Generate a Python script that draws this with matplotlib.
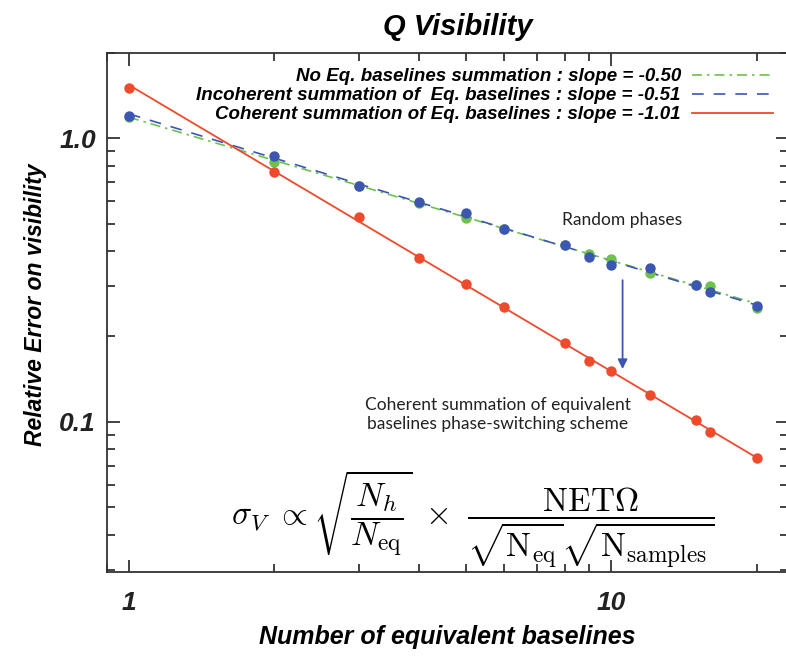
# Q visibility: relative error vs number of equivalent baselines

import numpy as np
import matplotlib.pyplot as plt
from matplotlib.ticker import LogLocator, NullFormatter

plt.rcParams['mathtext.fontset'] = 'cm'

# --- data ---
n_eq = [1, 2, 3, 4, 5, 6, 8, 9, 10, 12, 15, 16, 20]
err_no_eq = [1.19, 0.827, 0.68, 0.59, 0.522, 0.478, 0.42, 0.392, 0.376, 0.335, 0.303, 0.301, 0.251]
err_incoherent = [1.20, 0.869, 0.681, 0.594, 0.547, 0.478, 0.42, 0.381, 0.356, 0.349, 0.303, 0.286, 0.256]
err_coherent = [1.51, 0.762, 0.528, 0.379, 0.305, 0.253, 0.189, 0.164, 0.151, 0.1245, 0.1016, 0.092, 0.0746]

labels = ["No Eq. baselines summation : slope = -0.50",
          "Incoherent summation of  Eq. baselines : slope = -0.51",
          "Coherent summation of Eq. baselines : slope = -1.01"]

green = '#6cc24a'
blue = '#3d56b2'
red = '#ee4a2c'

bold_font = ['Liberation Sans Narrow', 'Liberation Sans', 'DejaVu Sans']
text_font = ['Lato', 'DejaVu Sans']


def fit_line(x, y):
    # power-law fit in log space, drawn over the data range
    p = np.polyfit(np.log10(x), np.log10(y), 1)
    xs = np.array([min(x), max(x)])
    return xs, 10 ** np.polyval(p, np.log10(xs))


fig = plt.figure(figsize=(7.86, 6.57), dpi=100)
ax = fig.add_axes([0.1361, 0.1294, 0.866, 0.790])
ax.set_xscale('log')
ax.set_yscale('log')

# points
ax.plot(n_eq, err_no_eq, 'o', color=green, ms=7.5, mec='none', zorder=3)
ax.plot(n_eq, err_incoherent, 'o', color=blue, ms=7.5, mec='none', zorder=4)
ax.plot(n_eq, err_coherent, 'o', color=red, ms=7.5, mec='none', zorder=4)

# fitted lines
xs, ys = fit_line(n_eq, err_no_eq)
ax.plot(xs, ys, color=green, lw=1.2, dashes=[6, 3, 1.5, 3], label=labels[0])
xs, ys = fit_line(n_eq, err_incoherent)
ax.plot(xs, ys, color=blue, lw=1.2, dashes=[7, 6], label=labels[1])
xs, ys = fit_line(n_eq, err_coherent)
ax.plot(xs, ys, color=red, lw=1.3, label=labels[2])

ax.set_xlim(0.9, 23.2)
ax.set_ylim(0.0295, 2.0)

# ticks
ax.set_xticks([1, 10])
ax.set_xticklabels(['1', '10'])
ax.set_yticks([0.1, 1.0])
ax.set_yticklabels(['0.1', '1.0'])
ax.xaxis.set_minor_locator(LogLocator(base=10, subs=np.arange(2, 10)))
ax.yaxis.set_minor_locator(LogLocator(base=10, subs=np.arange(2, 10)))
ax.xaxis.set_minor_formatter(NullFormatter())
ax.yaxis.set_minor_formatter(NullFormatter())
ax.tick_params(which='both', direction='in', top=True, right=True, width=1.2, colors='#222222')
ax.tick_params(which='major', length=9)
ax.tick_params(which='minor', length=6)
ax.tick_params(axis='x', which='major', pad=14)
ax.tick_params(axis='y', which='major', pad=8)
for lab in ax.get_xticklabels() + ax.get_yticklabels():
    lab.set_fontfamily(bold_font)
    lab.set_fontweight('bold')
    lab.set_fontstyle('italic')
    lab.set_fontsize(19)
for sp in ax.spines.values():
    sp.set_linewidth(1.3)
    sp.set_color('#333333')

ax.set_title("Q Visibility", fontfamily=bold_font, fontweight='bold', fontstyle='italic',
             fontsize=21, pad=13, x=0.516)
ax.set_xlabel("Number of equivalent baselines", fontfamily=bold_font, fontweight='bold',
              fontstyle='italic', fontsize=18, labelpad=7)
ax.set_ylabel("Relative Error on visibility", fontfamily=bold_font, fontweight='bold',
              fontstyle='italic', fontsize=16.5)
ax.yaxis.set_label_coords(-0.088, 0.515)

leg = ax.legend(loc='upper right', frameon=False, markerfirst=False, handlelength=4.3,
                handletextpad=0.6, labelspacing=0.1, borderaxespad=0.4,
                prop={'family': bold_font, 'weight': 'bold', 'style': 'italic', 'size': 13.5})
for t in leg.get_texts():
    t.set_ha('right')

# annotations
ax.text(10.5, 0.513, "Random phases", ha='center', va='center', fontfamily=text_font,
        fontsize=12.5, color='#222222')
ax.annotate('', xy=(10.55, 0.150), xytext=(10.55, 0.323),
            arrowprops=dict(arrowstyle='-|>', color=blue, lw=1.3, mutation_scale=14))
ax.text(5.81, 0.106, "Coherent summation of equivalent\nbaselines phase-switching scheme",
        ha='center', va='center', fontfamily=text_font, fontsize=12.5, color='#222222',
        linespacing=1.3)
ax.text(5.15, 0.0455,
        r'$\sigma_V\ \propto \sqrt{\dfrac{N_h}{N_{\rm eq}}}\ \times\ '
        r'\dfrac{\rm NET\Omega}{\sqrt{N_{\rm eq}}\sqrt{N_{\rm samples}}}$',
        ha='center', va='center', fontsize=24, color='black')

fig.savefig("out.png", dpi=100)
